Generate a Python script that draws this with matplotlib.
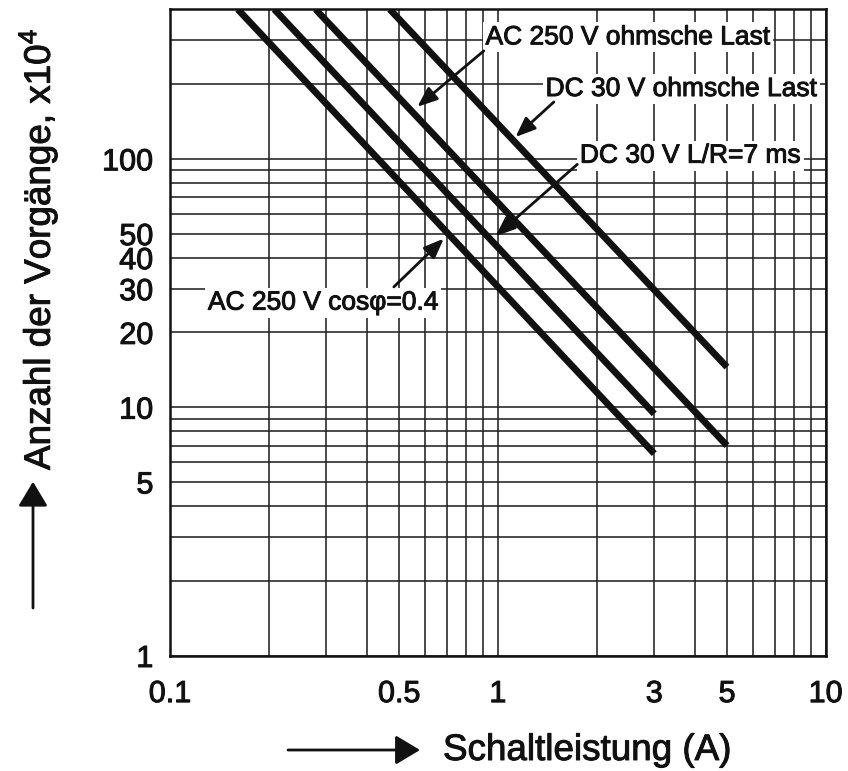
import matplotlib
matplotlib.use('Agg')
import matplotlib.pyplot as plt
import matplotlib.patheffects as pe
from matplotlib.ticker import FixedLocator, LogLocator, NullFormatter, FixedFormatter

plt.rcParams['font.family'] = ['Liberation Sans', 'DejaVu Sans']
plt.rcParams['mathtext.default'] = 'regular'

# Kennlinien: Schaltstrom (A) -> Anzahl der Vorgaenge (x10^4)
# erster Punkt am oberen Rand des Diagramms, zweiter am Kurvenende
ac250_cos_x = [0.161, 3.0]
ac250_cos_y = [400, 6.5]
dc30_lr_x = [0.208, 3.0]
dc30_lr_y = [400, 9.4]
ac250_ohm_x = [0.278, 5.0]
ac250_ohm_y = [400, 7.0]
dc30_ohm_x = [0.468, 5.0]
dc30_ohm_y = [400, 14.5]

x_ticks = [0.1, 0.5, 1, 3, 5, 10]
x_ticklabels = ['0.1', '0.5', '1', '3', '5', '10']
y_ticks = [1, 5, 10, 20, 30, 40, 50, 100]
y_ticklabels = ['1', '5', '10', '20', '30', '40', '50', '100']

# Beschriftungen: Text, Textposition (links, Grundlinie), Pfeilanfang, Pfeilspitze
labels = ['AC 250 V ohmsche Last', 'DC 30 V ohmsche Last',
          'DC 30 V L/R=7 ms', 'AC 250 V cosφ=0.4']
label_pos = [(0.917, 289), (1.398, 179), (1.779, 96.5), (0.1305, 24.7)]
arrow_tail = [(0.906, 272), (1.482, 169.4), (1.747, 95.0), (0.4817, 30.5)]
arrow_tip = [(0.568, 162), (1.132, 122.4), (0.984, 48.8), (0.684, 47.7)]

# etwas kraeftigere Schrift wie im Original
heavy = [pe.withStroke(linewidth=0.7, foreground='#111111')]

W, H = 848, 771
fig = plt.figure(figsize=(W / 100, H / 100), dpi=100)
ax = fig.add_axes([170 / W, 1 - 655.5 / H, 655.7 / W, 646.2 / H])

ax.set_xscale('log')
ax.set_yscale('log')
ax.set_xlim(0.1, 10)
ax.set_ylim(1, 400)

ax.xaxis.set_major_locator(FixedLocator(x_ticks))
ax.xaxis.set_major_formatter(FixedFormatter(x_ticklabels))
ax.yaxis.set_major_locator(FixedLocator(y_ticks))
ax.yaxis.set_major_formatter(FixedFormatter(y_ticklabels))
for axis in (ax.xaxis, ax.yaxis):
    axis.set_minor_locator(LogLocator(base=10, subs=range(1, 10)))
    axis.set_minor_formatter(NullFormatter())

ax.grid(which='both', color='#222222', lw=1.15)
ax.set_axisbelow(True)
ax.tick_params(which='both', length=0)
ax.tick_params(axis='x', labelsize=22, pad=17)
ax.tick_params(axis='y', labelsize=22, pad=12)
for lab in ax.get_xticklabels() + ax.get_yticklabels():
    lab.set_color('#111111')
    lab.set_path_effects(heavy)
for s in ax.spines.values():
    s.set_linewidth(1.8)
    s.set_color('#111111')

for xs, ys in [(ac250_cos_x, ac250_cos_y), (dc30_lr_x, dc30_lr_y),
               (ac250_ohm_x, ac250_ohm_y), (dc30_ohm_x, dc30_ohm_y)]:
    ax.plot(xs, ys, color='#111111', lw=4.9, solid_capstyle='butt', zorder=4)

for txt, pos, tail, tip in zip(labels, label_pos, arrow_tail, arrow_tip):
    ax.text(pos[0], pos[1], txt, fontsize=19, ha='left', va='baseline', zorder=3,
            color='#111111', path_effects=heavy,
            bbox=dict(facecolor='white', edgecolor='none', pad=2))
    ax.annotate('', xy=tip, xytext=tail, zorder=5,
                arrowprops=dict(arrowstyle='-|>,head_length=0.55,head_width=0.22',
                                lw=2, color='#111111', shrinkA=0, shrinkB=0,
                                mutation_scale=22))

# Achsenbeschriftungen mit Pfeilen
fig.text(38 / W, 1 - 470 / H, 'Anzahl der Vorgänge, x10$^4$', rotation=90,
         ha='center', va='bottom', fontsize=26.5, color='#111111', path_effects=heavy)
fig.text(443 / W, 1 - 760 / H, 'Schaltleistung (A)', ha='left', va='baseline',
         fontsize=26.5, color='#111111', path_effects=heavy)

arrow_style = dict(arrowstyle='-|>,head_length=0.5,head_width=0.3', lw=2,
                   color='#111111', shrinkA=0, shrinkB=0, mutation_scale=30)
ax.annotate('', xy=(33 / W, 1 - 481.7 / H), xytext=(33 / W, 1 - 608 / H),
            xycoords='figure fraction', textcoords='figure fraction',
            arrowprops=arrow_style, annotation_clip=False)
ax.annotate('', xy=(420 / W, 1 - 750 / H), xytext=(288 / W, 1 - 750 / H),
            xycoords='figure fraction', textcoords='figure fraction',
            arrowprops=arrow_style, annotation_clip=False)

fig.savefig('out.png', dpi=100)
